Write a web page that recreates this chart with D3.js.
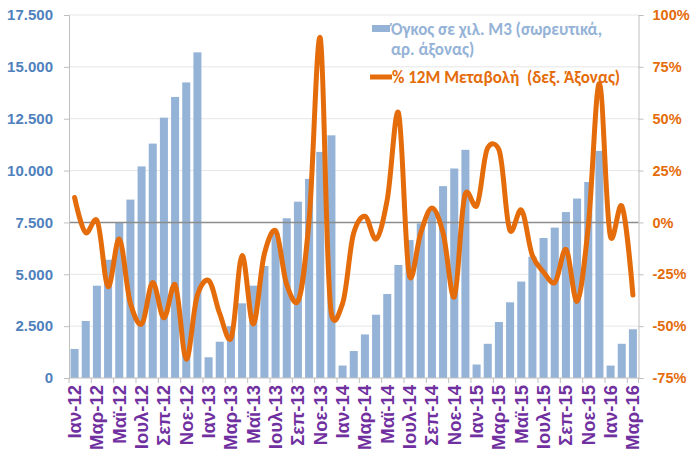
<!DOCTYPE html>
<html>
<head>
<meta charset="utf-8">
<script src="https://cdn.jsdelivr.net/npm/d3@7"></script>
<style>
  html, body { margin: 0; padding: 0; background: #fff; }
  svg { display: block; font-family: Carlito, Calibri, "Liberation Sans", Arial, sans-serif; font-weight: bold; }
</style>
</head>
<body>
<svg id="chart" width="693" height="452"></svg>
<script>
const months = ["Ιαν","Φεβ","Μαρ","Απρ","Μαϊ","Ιουν","Ιουλ","Αυγ","Σεπ","Οκτ","Νοε","Δεκ"];
const categories = [];
for (let y = 12; y <= 16; y++) {
  for (let m = 0; m < 12; m++) {
    if (y === 16 && m > 2) break;
    categories.push(months[m] + "-" + y);
  }
}

// Volume, thousand m3 (cumulative, left axis)
const volume = [
  1400, 2750, 4450, 5700, 7500, 8600, 10200, 11300, 12550, 13550, 14250, 15700,
  1000, 1750, 2500, 3600, 4450, 5400, 7000, 7700, 8500, 9600, 10900, 11700,
  600, 1300, 2100, 3050, 4050, 5450, 6650, 7450, 8200, 9250, 10100, 11000,
  650, 1650, 2700, 3650, 4650, 5850, 6750, 7250, 8000, 8650, 9450, 10950,
  600, 1650, 2350
];

// % 12M change (right axis)
const change = [
  12, -5, 1, -31, -8, -39, -49, -29, -46, -30, -66, -35,
  -28, -44, -56, -16, -49, -15, -4, -30, -38, 1, 89, -44,
  -39, -5, 3, -8, 11, 53, -26, -5, 7, -5, -36, 14,
  8, 36, 35, -4, 6, -16, -24, -29, -13, -38, -2, 67,
  -7, 8, -35
];

const leftTicks = [0, 2500, 5000, 7500, 10000, 12500, 15000, 17500];
const rightTicks = [-75, -50, -25, 0, 25, 50, 75, 100];
const legendBar = ["Όγκος σε χιλ. Μ3 (σωρευτικά,", "αρ. άξονας)"];
const legendLine = "% 12Μ Μεταβολή  (δεξ. Άξονας)";

const svg = d3.select("#chart");
const L = 69, R = 638.5, T = 15, B = 378;

const x = d3.scaleBand().domain(categories).range([L, R]).paddingInner(0.28).paddingOuter(0.14);
const yL = d3.scaleLinear().domain([0, 17500]).range([B, T]);
const yR = d3.scaleLinear().domain([-75, 100]).range([B, T]);
const fmt = d3.formatLocale({decimal: ",", thousands: ".", grouping: [3], currency: ["", "€"]}).format(",");

// gridlines
svg.append("g").selectAll("line").data(leftTicks.filter(d => d !== 0 && d !== 7500)).join("line")
  .attr("x1", L).attr("x2", R).attr("y1", d => yL(d)).attr("y2", d => yL(d))
  .attr("stroke", "#e6e6e6").attr("stroke-width", 1);

// bars
svg.append("g").selectAll("rect").data(volume).join("rect")
  .attr("x", (d, i) => x(categories[i]))
  .attr("width", x.bandwidth())
  .attr("y", d => yL(d))
  .attr("height", d => B - yL(d))
  .attr("fill", "#95B3D7");

// zero line of right axis
svg.append("line").attr("x1", L).attr("x2", R).attr("y1", yR(0)).attr("y2", yR(0))
  .attr("stroke", "#8c8c8c").attr("stroke-width", 1.5);

// left axis
const gL = svg.append("g").attr("transform", `translate(${L},0)`)
  .call(d3.axisLeft(yL).tickValues(leftTicks).tickSize(5).tickPadding(11).tickFormat(d => fmt(d)));
gL.select(".domain").attr("stroke", "#bfbfbf");
gL.selectAll(".tick line").attr("stroke", "#bfbfbf");
gL.selectAll("text").attr("fill", "#4F81BD").attr("font-size", 15).attr("font-family", null);

// right axis
const gR = svg.append("g").attr("transform", `translate(${R},0)`)
  .call(d3.axisRight(yR).tickValues(rightTicks).tickSize(5).tickPadding(9).tickFormat(d => d + "%"));
gR.select(".domain").attr("stroke", "#bfbfbf");
gR.selectAll(".tick line").attr("stroke", "#bfbfbf");
gR.selectAll("text").attr("fill", "#E46C0A").attr("font-size", 14.5).attr("font-family", null);

// bottom axis
svg.append("line").attr("x1", L).attr("x2", R).attr("y1", B).attr("y2", B).attr("stroke", "#bfbfbf");
const tickPos = categories.filter((c, i) => i % 2 === 0).map(c => x(c) - x.step() * x.paddingInner() / 2);
tickPos.push(R);
svg.append("g").selectAll("line").data(tickPos).join("line")
  .attr("x1", d => d).attr("x2", d => d).attr("y1", B).attr("y2", B + 5)
  .attr("stroke", "#bfbfbf");
const gX = svg.append("g").attr("transform", `translate(0,${B})`)
  .call(d3.axisBottom(x).tickValues(categories.filter((c, i) => i % 2 === 0)).tickSize(0));
gX.select(".domain").remove();
gX.selectAll("text")
  .attr("fill", "#7030A0").attr("font-size", 18.5).attr("font-family", null)
  .attr("text-anchor", "end")
  .attr("transform", "rotate(-90)")
  .attr("x", -7).attr("y", 0).attr("dy", "0.35em");

// line
const line = d3.line()
  .x((d, i) => x(categories[i]) + x.bandwidth() / 2)
  .y(d => yR(d))
  .curve(d3.curveCatmullRom.alpha(0.2));
svg.append("path").datum(change).attr("d", line)
  .attr("fill", "none").attr("stroke", "#E46C0A").attr("stroke-width", 5)
  .attr("stroke-linejoin", "round").attr("stroke-linecap", "round");

// legend
svg.append("rect").attr("x", 372).attr("y", 25).attr("width", 18).attr("height", 7).attr("fill", "#95B3D7");
svg.append("text").attr("x", 391).attr("y", 35).attr("fill", "#95B3D7").attr("font-size", 17).text(legendBar[0]);
svg.append("text").attr("x", 391).attr("y", 55).attr("fill", "#95B3D7").attr("font-size", 17).text(legendBar[1]);
svg.append("line").attr("x1", 370).attr("x2", 392).attr("y1", 77).attr("y2", 77)
  .attr("stroke", "#E46C0A").attr("stroke-width", 5);
svg.append("text").attr("x", 392).attr("y", 83).attr("fill", "#E46C0A").attr("font-size", 17)
  .style("white-space", "pre").text(legendLine);
</script>
</body>
</html>
